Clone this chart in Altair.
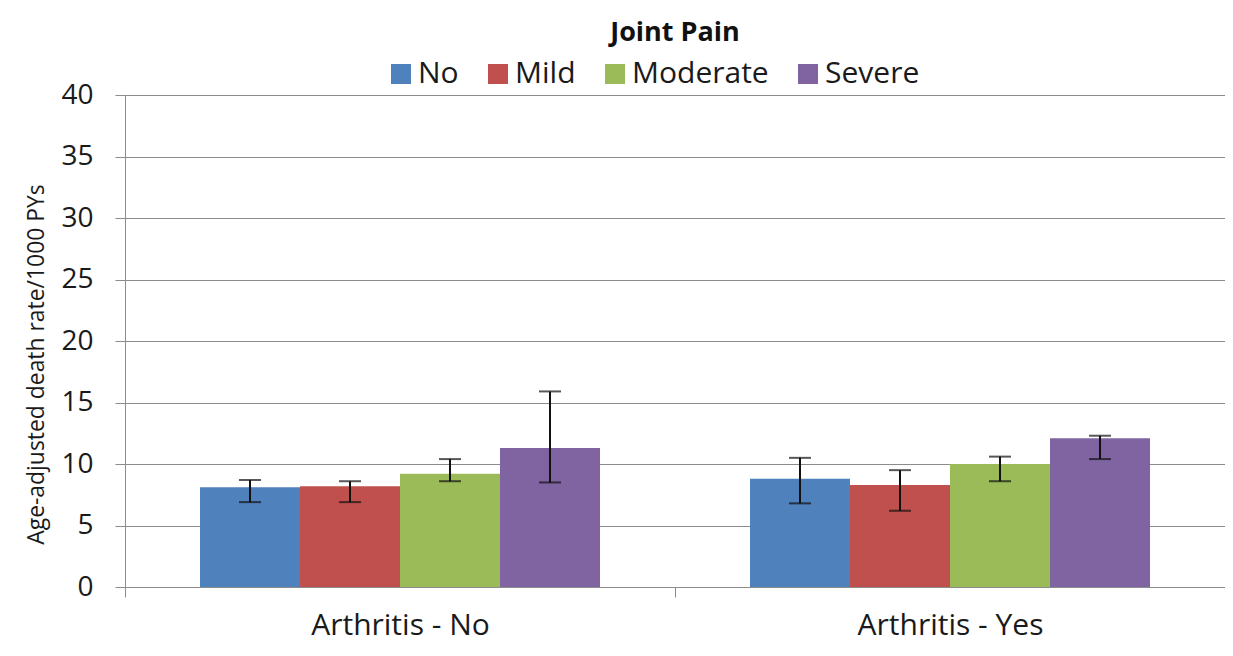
import altair as alt
import pandas as pd

groups = ["Arthritis - No", "Arthritis - Yes"]
series = ["No", "Mild", "Moderate", "Severe"]
colors = ["#4F81BD", "#C0504D", "#9BBB59", "#8064A2"]
values_no = [8.1, 8.2, 9.2, 11.3]
low_no = [6.9, 6.9, 8.6, 8.5]
high_no = [8.7, 8.6, 10.4, 15.9]
values_yes = [8.8, 8.3, 10.0, 12.1]
low_yes = [6.8, 6.2, 8.6, 10.4]
high_yes = [10.5, 9.5, 10.6, 12.3]

rows = []
for g, vals, lo, hi in [(groups[0], values_no, low_no, high_no),
                        (groups[1], values_yes, low_yes, high_yes)]:
    for s, v, l, h in zip(series, vals, lo, hi):
        rows.append({"group": g, "pain": s, "rate": v, "low": l, "high": h})
df = pd.DataFrame(rows)

FONT = "Open Sans"
GRAY = "#8c8c8c"
TXT = "#1a1a1a"

x = alt.X("group:N", sort=groups, title=None,
          scale=alt.Scale(paddingInner=0, paddingOuter=0),
          axis=alt.Axis(labelAngle=0, labelFontSize=30, labelFont=FONT, labelColor=TXT,
                        labelLimit=0, domainColor=GRAY, tickColor=GRAY, tickSize=10,
                        tickBand="extent", labelPadding=13, grid=False))
xo = alt.XOffset("pain:N", sort=series,
                 scale=alt.Scale(paddingInner=0, paddingOuter=0.75))

base = alt.Chart(df)

bars = base.mark_bar().encode(
    x=x, xOffset=xo,
    y=alt.Y("rate:Q", title="Age-adjusted death rate/1000 PYs",
            scale=alt.Scale(domain=[0, 40]),
            axis=alt.Axis(values=list(range(0, 41, 5)), labelFontSize=28, labelFont=FONT,
                          labelColor=TXT, domainColor=GRAY, tickColor=GRAY, tickSize=10,
                          labelPadding=22, gridColor=GRAY, gridWidth=1,
                          titleFont=FONT, titleFontSize=22.9, titleFontWeight="normal",
                          titleColor=TXT, titleX=-89, titleY=269,
                          titleAlign="center", titleBaseline="middle")),
    color=alt.Color("pain:N", sort=series, scale=alt.Scale(domain=series, range=colors),
                    legend=alt.Legend(title=None, orient="none", direction="horizontal",
                                      legendX=261, legendY=-36, symbolType="square",
                                      symbolSize=400, symbolStrokeWidth=0,
                                      labelFontSize=30, labelFont=FONT, labelColor=TXT,
                                      columnPadding=24, labelOffset=2)),
)

rules = base.mark_rule(color="#111", strokeWidth=2).encode(
    x=x, xOffset=xo, y="low:Q", y2="high:Q")
caps_hi = base.mark_tick(color="#111", thickness=2, size=22).encode(
    x=x, xOffset=xo, y="high:Q")
caps_lo = base.mark_tick(color="#111", thickness=2, size=22).encode(
    x=x, xOffset=xo, y="low:Q")

chart = alt.layer(bars, rules, caps_hi, caps_lo).properties(
    width=1100, height=492,
    title=alt.Title("Joint Pain", font=FONT, fontSize=27, fontWeight="bold",
                    color="#111", anchor="middle", offset=12),
    autosize=alt.AutoSizeParams(type="none"),
    padding={"left": 117, "top": 87, "right": 0, "bottom": 58},
).configure_view(stroke=None).configure(font=FONT)

chart.save("out.html", embed_options={"renderer": "svg", "actions": False})
